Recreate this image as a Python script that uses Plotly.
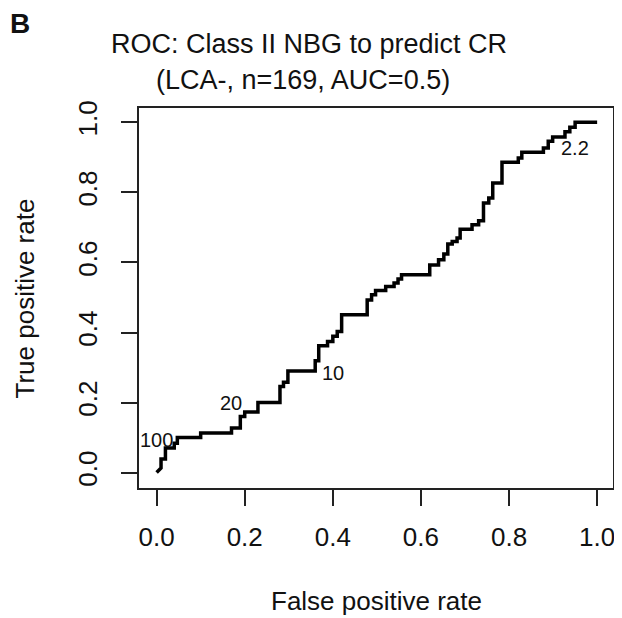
import plotly.graph_objects as go

# ROC curve vertices
fpr = [0, 0.01, 0.01, 0.02, 0.02, 0.04, 0.04, 0.047, 0.047, 0.10, 0.10, 0.17, 0.17, 0.19, 0.19,
       0.20, 0.20, 0.23, 0.23, 0.28, 0.28, 0.288, 0.288, 0.298, 0.298, 0.36, 0.36, 0.368, 0.368,
       0.388, 0.388, 0.40, 0.40, 0.41, 0.41, 0.42, 0.42, 0.478, 0.478, 0.488, 0.488, 0.497, 0.497,
       0.52, 0.52, 0.539, 0.539, 0.548, 0.548, 0.556, 0.556, 0.62, 0.62, 0.64, 0.64, 0.652, 0.652,
       0.661, 0.661, 0.671, 0.671, 0.682, 0.682, 0.689, 0.689, 0.716, 0.716, 0.731, 0.731, 0.742,
       0.742, 0.754, 0.754, 0.763, 0.763, 0.784, 0.784, 0.821, 0.821, 0.829, 0.829, 0.878, 0.878,
       0.889, 0.889, 0.899, 0.899, 0.927, 0.927, 0.938, 0.938, 0.95, 0.95, 1.0]
tpr = [0, 0.013, 0.039, 0.039, 0.07, 0.07, 0.084, 0.084, 0.10, 0.10, 0.113, 0.113, 0.127, 0.127, 0.16,
       0.16, 0.173, 0.173, 0.20, 0.20, 0.246, 0.246, 0.258, 0.258, 0.29, 0.29, 0.319, 0.319, 0.362,
       0.362, 0.374, 0.374, 0.389, 0.389, 0.403, 0.403, 0.451, 0.451, 0.493, 0.493, 0.508, 0.508, 0.52,
       0.52, 0.531, 0.531, 0.541, 0.541, 0.553, 0.553, 0.565, 0.565, 0.593, 0.593, 0.608, 0.608, 0.624,
       0.624, 0.653, 0.653, 0.66, 0.66, 0.67, 0.67, 0.695, 0.695, 0.708, 0.708, 0.719, 0.719,
       0.77, 0.77, 0.784, 0.784, 0.827, 0.827, 0.886, 0.886, 0.898, 0.898, 0.915, 0.915, 0.927,
       0.927, 0.946, 0.946, 0.958, 0.958, 0.973, 0.973, 0.986, 0.986, 1.0, 1.0]

# cutoff labels
cutoff_text = ["100", "20", "10", "2.2"]
cutoff_fpr = [0.0, 0.169, 0.401, 0.95]
cutoff_tpr = [0.094, 0.199, 0.285, 0.927]

tick_vals = [0.0, 0.2, 0.4, 0.6, 0.8, 1.0]
tick_text = ["0.0", "0.2", "0.4", "0.6", "0.8", "1.0"]

FONT = "Liberation Sans, Arial, Helvetica, sans-serif"
OFF = 8  # page body margin
W, H = 622 - OFF, 618 - OFF
ML, MT = 139 - OFF, 108 - OFF
MR = W - (615 - OFF)
MB = H - (488 - OFF)
PW, PH = W - ML - MR, H - MT - MB


def px_x(p):
    return (p - OFF - ML) / PW


def px_y(p):
    return (MT + PH - (p - OFF)) / PH


fig = go.Figure()
fig.add_trace(go.Scatter(x=fpr, y=tpr, mode="lines",
                         line=dict(color="black", width=3.5),
                         hoverinfo="skip", showlegend=False))

for t, xv, yv in zip(cutoff_text, cutoff_fpr, cutoff_tpr):
    fig.add_annotation(x=xv, y=yv, text=t, showarrow=False,
                       font=dict(family=FONT, size=20, color="#111"),
                       xanchor="center", yanchor="middle")

anns = [
    dict(text="<b>B</b>", x=px_x(19), y=px_y(23), size=28),
    dict(text="ROC: Class II NBG to predict CR", x=px_x(309.5), y=px_y(44), size=27),
    dict(text="(LCA-, n=169, AUC=0.5)", x=px_x(304), y=px_y(80), size=27),
    dict(text="False positive rate", x=px_x(377), y=px_y(601), size=26),
]
for a in anns:
    fig.add_annotation(xref="paper", yref="paper", x=a["x"], y=a["y"], text=a["text"],
                       showarrow=False, xanchor="center", yanchor="middle",
                       font=dict(family=FONT, size=a["size"], color="#111"))
fig.add_annotation(xref="paper", yref="paper", x=px_x(25), y=px_y(298),
                   text="True positive rate", textangle=-90, showarrow=False,
                   xanchor="center", yanchor="middle",
                   font=dict(family=FONT, size=26, color="#111"))

axis_common = dict(showline=True, mirror=True, linewidth=2, linecolor="#222",
                   showgrid=False, zeroline=False, ticks="outside", ticklen=16,
                   tickwidth=2, tickcolor="#222", tickvals=tick_vals, ticktext=tick_text,
                   tickfont=dict(family=FONT, size=26, color="#111"), fixedrange=True)

fig.update_layout(
    width=W, height=H,
    margin=dict(l=ML, r=MR, t=MT, b=MB, pad=0),
    paper_bgcolor="white", plot_bgcolor="white",
    xaxis=dict(range=[-0.04, 1.036], ticklabelstandoff=9, **axis_common),
    yaxis=dict(range=[-0.044, 1.041], tickangle=-90, ticklabelstandoff=14, **axis_common),
    showlegend=False,
)

fig.write_html("out.html")
